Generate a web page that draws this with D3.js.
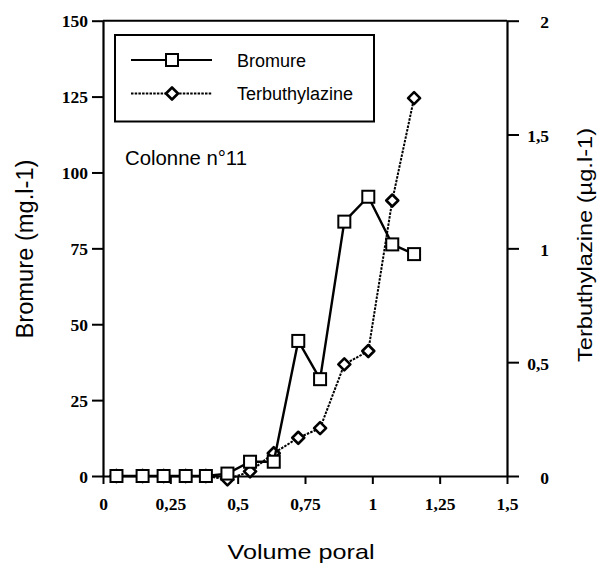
<!DOCTYPE html>
<html><head><meta charset="utf-8">
<script src="https://cdn.jsdelivr.net/npm/d3@7"></script>
<style>body{margin:0;background:#fff}svg{display:block}</style>
</head><body><svg id="c" width="599" height="565"></svg>
<script>
const volume = [0.05,0.147,0.225,0.307,0.382,0.462,0.546,0.634,0.725,0.806,0.896,0.985,1.074,1.155];
const bromure = [0,0,0,0,0,0.8,4.7,4.7,44.5,31.9,83.8,92.0,76.3,73.1];
const terbuthylazine = [0,0,0,0,0,-0.015,0.02,0.10,0.168,0.21,0.49,0.549,1.21,1.66];
const xTicks = [0,0.25,0.5,0.75,1,1.25,1.5];
const xTickLabels = ["0","0,25","0,5","0,75","1","1,25","1,5"];
const yLeftTicks = [0,25,50,75,100,125,150];
const yLeftTickLabels = ["0","25","50","75","100","125","150"];
const yRightTicks = [0,0.5,1,1.5,2];
const yRightTickLabels = ["0","0,5","1","1,5","2"];
const seriesNames = ["Bromure","Terbuthylazine"];
const annotation = "Colonne n°11";
const xTitle = "Volume poral";
const yLeftTitle = "Bromure (mg.l-1)";
const yRightTitle = "Terbuthylazine (µg.l-1)";

const svg = d3.select("#c");
const x = d3.scaleLinear().domain([0,1.5]).range([103,507]);
const yL = d3.scaleLinear().domain([0,150]).range([476,20.7]);
const yR = d3.scaleLinear().domain([0,2]).range([476,20.7]);

const tickFont = "'Liberation Serif', 'DejaVu Serif', serif";
const sansFont = "'Liberation Sans', Arial, sans-serif";

// frame top
svg.append("line").attr("x1",x(0)).attr("x2",x(1.5)).attr("y1",yL(150)).attr("y2",yL(150))
  .attr("stroke","#000").attr("stroke-width",2);

// axes
const gx = svg.append("g").attr("transform",`translate(0,${yL(0)})`)
  .call(d3.axisBottom(x).tickValues(xTicks).tickSize(8).tickSizeOuter(0)
    .tickFormat((d,i)=>xTickLabels[i]));
gx.selectAll("text").attr("y",34).attr("dy",null);

const gl = svg.append("g").attr("transform",`translate(${x(0)},0)`)
  .call(d3.axisLeft(yL).tickValues(yLeftTicks).tickSize(11).tickSizeOuter(0)
    .tickFormat((d,i)=>yLeftTickLabels[i]));
gl.selectAll("text").attr("x",-15).attr("dy",null).attr("y",6);

const gr = svg.append("g").attr("transform",`translate(${x(1.5)},0)`)
  .call(d3.axisRight(yR).tickValues(yRightTicks).tickSize(12).tickSizeOuter(0)
    .tickFormat((d,i)=>yRightTickLabels[i]));
gr.selectAll("text").attr("x",42).attr("dy",null).attr("y",7).attr("text-anchor","end");

[gx,gl,gr].forEach(g=>{
  g.select(".domain").attr("stroke","#000").attr("stroke-width",2.2);
  g.selectAll(".tick line").attr("stroke","#000").attr("stroke-width",2);
  g.selectAll("text").attr("font-family",tickFont).attr("font-size",17.5)
    .attr("font-weight","bold").attr("fill","#000");
  g.attr("font-family",null).attr("font-size",null);
});

// series
const pts = volume.map((v,i)=>({v, b:bromure[i], t:terbuthylazine[i]}));
const diamondPath = "M0,-6L6,0L0,6L-6,0Z";

svg.append("path").datum(pts)
  .attr("d", d3.line().x(d=>x(d.v)).y(d=>yR(d.t)))
  .attr("fill","none").attr("stroke","#000").attr("stroke-width",2)
  .attr("stroke-dasharray","2.5,1.2");
svg.append("g").selectAll("path").data(pts).join("path")
  .attr("transform",d=>`translate(${x(d.v)},${yR(d.t)})`)
  .attr("d",diamondPath).attr("fill","#fff").attr("stroke","#000").attr("stroke-width",2.6)
  .attr("stroke-linejoin","round");

svg.append("path").datum(pts)
  .attr("d", d3.line().x(d=>x(d.v)).y(d=>yL(d.b)))
  .attr("fill","none").attr("stroke","#000").attr("stroke-width",2.4);
svg.append("g").selectAll("rect").data(pts).join("rect")
  .attr("x",d=>x(d.v)-6).attr("y",d=>yL(d.b)-6).attr("width",12).attr("height",12)
  .attr("fill","#fff").attr("stroke","#000").attr("stroke-width",2);

// legend
const lg = svg.append("g");
lg.append("rect").attr("x",115).attr("y",35).attr("width",259).attr("height",86.5)
  .attr("fill","#fff").attr("stroke","#000").attr("stroke-width",2);
lg.append("line").attr("x1",131).attr("x2",212).attr("y1",60).attr("y2",60)
  .attr("stroke","#000").attr("stroke-width",2.2);
lg.append("rect").attr("x",172-6).attr("y",60-6).attr("width",12).attr("height",12)
  .attr("fill","#fff").attr("stroke","#000").attr("stroke-width",2);
lg.append("line").attr("x1",131).attr("x2",212).attr("y1",93.5).attr("y2",93.5)
  .attr("stroke","#000").attr("stroke-width",2).attr("stroke-dasharray","2.5,1.2");
lg.append("path").attr("transform","translate(172,93.5)").attr("d",diamondPath)
  .attr("fill","#fff").attr("stroke","#000").attr("stroke-width",2.6).attr("stroke-linejoin","round");
lg.selectAll("text.lt").data(seriesNames).join("text").attr("class","lt")
  .attr("x",237).attr("y",(d,i)=>i===0?66.7:100)
  .attr("font-family",sansFont).attr("font-size",18).attr("fill","#000").text(d=>d);

svg.append("text").attr("x",125).attr("y",165).attr("font-family",sansFont)
  .attr("font-size",20).attr("textLength",122).attr("lengthAdjust","spacingAndGlyphs").text(annotation);

// axis titles
svg.append("text").attr("x",301).attr("y",559).attr("text-anchor","middle")
  .attr("font-family",sansFont).attr("font-size",21)
  .attr("textLength",147).attr("lengthAdjust","spacingAndGlyphs").text(xTitle);
svg.append("text").attr("transform","translate(33,249) rotate(-90)").attr("text-anchor","middle")
  .attr("font-family",sansFont).attr("font-size",23)
  .attr("textLength",179).attr("lengthAdjust","spacingAndGlyphs").text(yLeftTitle);
svg.append("text").attr("transform","translate(592,245) rotate(-90)").attr("text-anchor","middle")
  .attr("font-family",sansFont).attr("font-size",20.5)
  .attr("textLength",234).attr("lengthAdjust","spacingAndGlyphs").text(yRightTitle);
</script></body></html>
